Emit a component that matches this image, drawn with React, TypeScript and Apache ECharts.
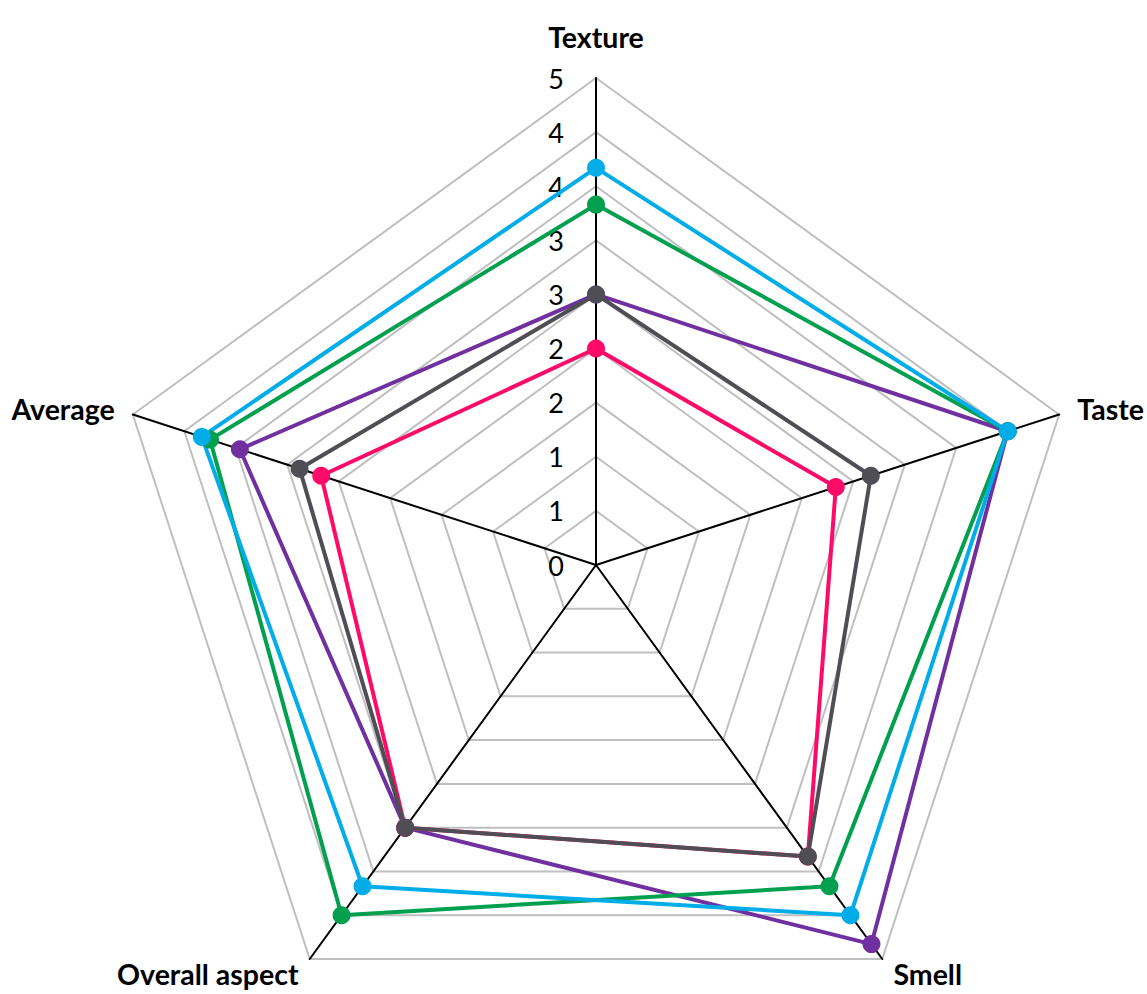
import React, { useEffect, useRef } from "react";
import * as echarts from "echarts";

// Axes in the visual (clockwise) order, starting at the top
const categories = ["Texture", "Taste", "Smell", "Overall aspect", "Average"];
// Tick values of the radial scale (Excel shows them rounded to integers)
const tickMax = 4.5;
const tickStep = 0.5;

const cyanValues = [3.67, 4.0, 4.0, 3.67, 3.83];
const greenValues = [3.33, 4.0, 3.67, 4.0, 3.75];
const purpleValues = [2.5, 4.0, 4.33, 3.0, 3.46];
const pinkValues = [2.0, 2.33, 3.33, 3.0, 2.67];
const grayValues = [2.5, 2.67, 3.33, 3.0, 2.88];

const seriesList = [
  { name: "Purple", values: purpleValues, color: "#7030A0" },
  { name: "Green", values: greenValues, color: "#00A04F" },
  { name: "Cyan", values: cyanValues, color: "#00ADE8" },
  { name: "Pink", values: pinkValues, color: "#FF0A66" },
  { name: "Gray", values: grayValues, color: "#4E4E54" },
];

// ECharts radar places indicators counter-clockwise; reorder to get clockwise layout
const order = [0, 4, 3, 2, 1];

export default function App() {
  const ref = useRef<HTMLDivElement>(null);
  useEffect(() => {
    if (!ref.current) return;
    const chart = echarts.init(ref.current, undefined, { renderer: "svg" });
    const font = "Lato, 'Open Sans', sans-serif";
    const cx = 596;
    const cy = 565;
    const r = 487;
    chart.setOption({
      animation: false,
      backgroundColor: "#ffffff",
      radar: {
        center: [cx, cy],
        radius: r,
        shape: "polygon",
        splitNumber: Math.round(tickMax / tickStep),
        nameGap: 19,
        axisName: {
          color: "#000",
          fontFamily: font,
          fontWeight: "bold",
          fontSize: 28.5,
          formatter: (name: string) =>
            name === categories[0] ? `{top|${name}}` : name,
          rich: {
            top: {
              fontFamily: font,
              fontWeight: "bold",
              fontSize: 28.5,
              color: "#000",
              padding: [0, 0, 8, 0],
            },
          },
        },
        indicator: order.map((i) => ({ name: categories[i], min: 0, max: tickMax })),
        splitArea: { show: false },
        splitLine: { lineStyle: { color: "#BFBFBF", width: 2 } },
        axisLine: { lineStyle: { color: "#000", width: 2 } },
        axisTick: { show: false },
        axisLabel: { show: false },
      },
      grid: { left: cx, top: cy - r, width: 1, height: r },
      xAxis: { type: "value", show: false },
      yAxis: {
        type: "value",
        min: 0,
        max: tickMax,
        interval: tickStep,
        axisLine: { show: false },
        axisTick: { show: false },
        splitLine: { show: false },
        axisLabel: {
          margin: 32,
          fontFamily: font,
          fontSize: 27,
          color: "#000",
          formatter: (v: number) => String(Math.round(v)),
        },
      },
      series: seriesList.map((s) => ({
        type: "radar",
        name: s.name,
        symbol: "circle",
        symbolSize: 18,
        lineStyle: { color: s.color, width: 4 },
        itemStyle: { color: s.color },
        data: [{ value: order.map((i) => s.values[i]), name: s.name }],
      })),
    });
    return () => chart.dispose();
  }, []);
  return (
    <div
      ref={ref}
      style={{ position: "absolute", left: 0, top: 0, width: 1147, height: 994, background: "#fff" }}
    />
  );
}
